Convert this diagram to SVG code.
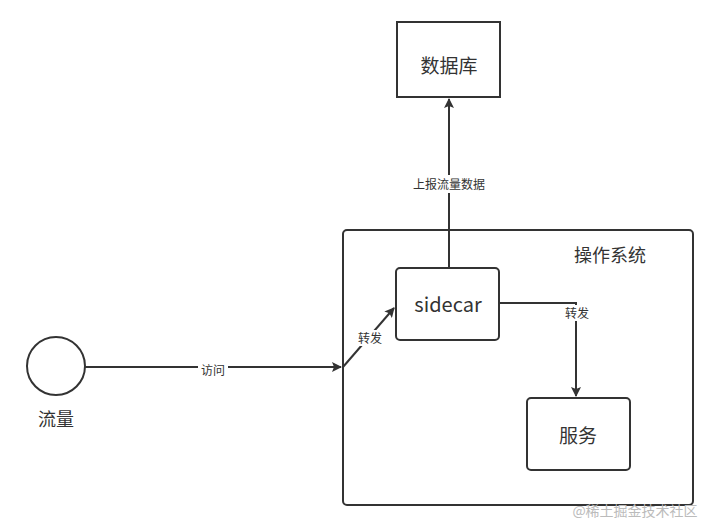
<svg xmlns="http://www.w3.org/2000/svg" width="720" height="532" viewBox="0 0 720 532">
<style>
.b{fill:#fff;stroke:#333;stroke-width:2}
.t{font-family:"Noto Sans CJK SC","Liberation Sans",sans-serif;fill:#333;text-anchor:middle}
.l{stroke:#333;stroke-width:2;fill:none}
.lab{font-family:"Noto Sans CJK SC",sans-serif;font-size:12px;fill:#333;text-anchor:middle}
</style>
<defs><marker id="a" markerWidth="10" markerHeight="10" refX="9" refY="5" orient="auto" markerUnits="userSpaceOnUse"><path d="M0,0L10,5L0,10L2,5Z" fill="#333"/></marker></defs>
<rect width="720" height="532" fill="#fff"/>
<g id="os"><rect class="b" x="343" y="230" width="350" height="275" rx="4"/><text class="t" x="610" y="262" font-size="18">操作系统</text></g>
<g id="db"><rect class="b" x="397" y="22" width="103" height="75"/><text class="t" x="449" y="73" font-size="19">数据库</text></g>
<g id="sidecar"><rect class="b" x="396" y="268" width="103" height="72" rx="4"/><text class="t" x="448" y="312" font-size="20">sidecar</text></g>
<g id="svc"><rect class="b" x="527" y="398" width="103" height="72" rx="4"/><text class="t" x="578" y="443" font-size="19">服务</text></g>
<g id="flow"><circle class="b" cx="56" cy="366" r="29"/><text class="t" x="56" y="426" font-size="18">流量</text></g>
<g id="edges">
<path class="l" d="M449,268V99" marker-end="url(#a)"/>
<rect x="404" y="175" width="90" height="18" fill="#fff"/><text class="lab" x="449" y="189">上报流量数据</text>
<path class="l" d="M85,367H341" marker-end="url(#a)"/>
<rect x="198" y="362" width="30" height="16" fill="#fff"/><text class="lab" x="213" y="375">访问</text>
<path class="l" d="M343,367L394,308" marker-end="url(#a)"/>
<rect x="356" y="330" width="28" height="16" fill="#fff"/><text class="lab" x="370" y="343">转发</text>
<path class="l" d="M499,303H576V396" marker-end="url(#a)"/>
<rect x="563" y="305" width="28" height="16" fill="#fff"/><text class="lab" x="577" y="318">转发</text>
</g>
<text x="635" y="516" font-family="Noto Sans CJK SC,sans-serif" font-size="14" fill="#bbb" text-anchor="middle">@稀土掘金技术社区</text>
</svg>
